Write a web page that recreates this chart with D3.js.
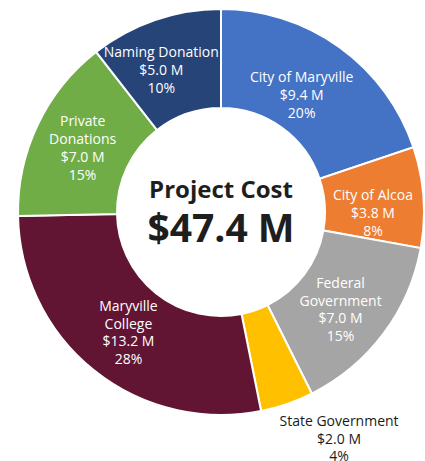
<!DOCTYPE html>
<html>
<head>
<meta charset="utf-8">
<script src="https://cdn.jsdelivr.net/npm/d3@7"></script>
<style>
  body { margin: 0; background: #fff; }
  svg { display: block; font-family: 'Open Sans', sans-serif; }
</style>
</head>
<body>
<svg id="chart"></svg>
<script>
// data
const sources = ['City of Maryville', 'City of Alcoa', 'Federal Government', 'State Government', 'Maryville College', 'Private Donations', 'Naming Donation'];
const amounts = [9.4, 3.8, 7.0, 2.0, 13.2, 7.0, 5.0];
const percents = ['20%', '8%', '15%', '4%', '28%', '15%', '10%'];
const labelLines = [
    ['City of Maryville'],
    ['City of Alcoa'],
    ['Federal', 'Government'],
    ['State Government'],
    ['Maryville', 'College'],
    ['Private', 'Donations'],
    ['Naming Donation'],
];
const colors = ['#4472c4', '#ed7d31', '#a5a5a5', '#ffc000', '#621433', '#70ad47', '#264478'];
const totalLabel = '$47.4 M';

// sizes
const width = 425;
const height = 461;
const cx = 221;
const cy = 212;
const outerR = 203;
const innerR = 104;
const lineH = 17.8;
const fontSize = 14;

// label nudges (degrees, radius) so text sits like the original
const nudgeDeg = [-0.8, 5, 2.7, 0, -1.5, -1, -4];
const nudgeR = [141, 152, 155, 0, 153, 152, 153];

const svg = d3.select('#chart')
    .attr('width', width)
    .attr('height', height);

const color = d3.scaleOrdinal().domain(sources).range(colors);

const pie = d3.pie()
    .sort(null)
    .value((d, i) => amounts[i]);

const arc = d3.arc()
    .innerRadius(innerR)
    .outerRadius(outerR);

const arcs = pie(sources);

const g = svg.append('g')
    .attr('transform', `translate(${cx},${cy})`);

g.selectAll('path')
    .data(arcs)
    .enter()
    .append('path')
        .attr('d', arc)
        .attr('fill', d => color(d.data))
        .attr('stroke', 'white')
        .attr('stroke-width', 2);

// slice labels
const isSmall = d => (d.endAngle - d.startAngle) < 0.3;

const labels = g.selectAll('g.label')
    .data(arcs)
    .enter()
    .append('g')
        .attr('class', 'label')
        .attr('transform', d => {
            const mid = (d.startAngle + d.endAngle) / 2;
            if (isSmall(d)) {
                // small slice: label goes below the outer edge
                const x = Math.sin(mid) * outerR;
                const y = -Math.cos(mid) * outerR;
                return `translate(${x + 52},${y + 18})`;
            }
            const a = mid + nudgeDeg[d.index] * Math.PI / 180;
            const r = nudgeR[d.index];
            return `translate(${Math.sin(a) * r},${-Math.cos(a) * r})`;
        });

labels.each(function(d) {
    const i = d.index;
    const small = isSmall(d);
    const lines = labelLines[i].concat(['$' + amounts[i].toFixed(1) + ' M', percents[i]]);
    const y0 = small ? 0 : -(lines.length - 1) * lineH / 2;
    d3.select(this).selectAll('text')
        .data(lines)
        .enter()
        .append('text')
            .attr('text-anchor', 'middle')
            .attr('dominant-baseline', 'middle')
            .attr('y', (t, k) => y0 + k * lineH)
            .attr('font-size', fontSize)
            .attr('fill', small ? '#1a1a1a' : 'white')
            .text(t => t);
});

// center text
g.append('text')
    .attr('text-anchor', 'middle')
    .attr('y', -14)
    .attr('font-size', 24)
    .attr('font-weight', 'bold')
    .attr('fill', '#1e1e1e')
    .text('Project Cost');

g.append('text')
    .attr('text-anchor', 'middle')
    .attr('y', 30)
    .attr('font-size', 39)
    .attr('font-weight', 'bold')
    .attr('fill', '#1e1e1e')
    .text(totalLabel);
</script>
</body>
</html>
